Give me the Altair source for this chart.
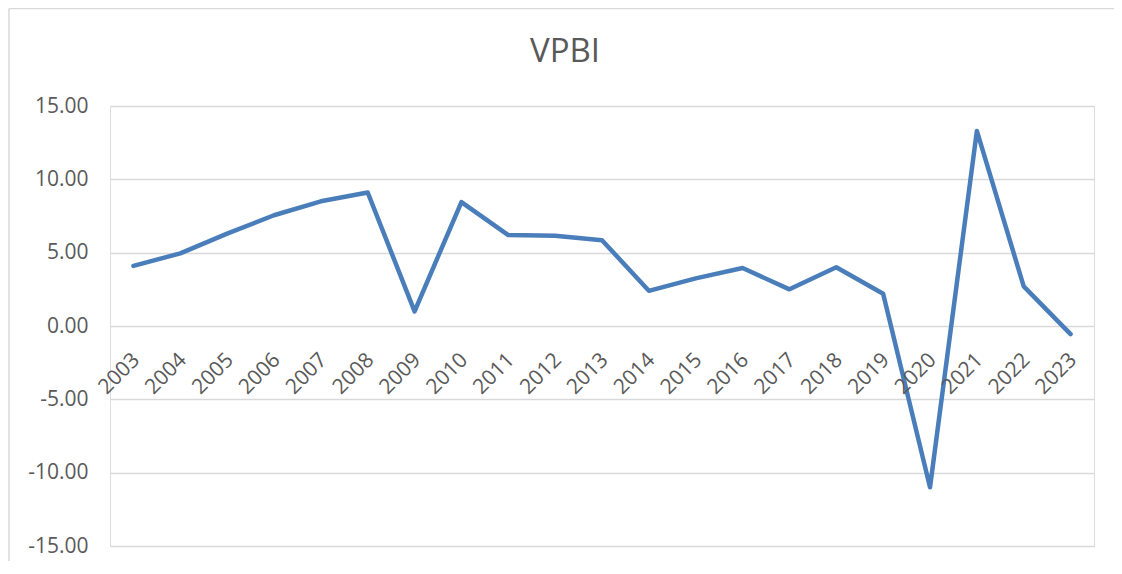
import altair as alt
import pandas as pd

years = [str(y) for y in range(2003, 2024)]
values = [4.1, 4.95, 6.3, 7.55, 8.5, 9.1, 1.0, 8.45, 6.2, 6.15, 5.85,
          2.4, 3.25, 3.95, 2.5, 4.0, 2.2, -11.0, 13.3, 2.7, -0.55]
y_ticks = [-15, -10, -5, 0, 5, 10, 15]
title_text = "VPBI"

df = pd.DataFrame({"year": years, "value": values})

FONT = "Open Sans"
TXT = "#595959"
GRID = "#d9d9d9"
LINE = "#4a7ebb"

xscale = alt.Scale(type="point", padding=0.5)
yscale = alt.Scale(domain=[-15, 15], nice=False, zero=False)

one = alt.Data(values=[{}])

border_left = alt.Chart(one).mark_rule(stroke=GRID, strokeWidth=1.5).encode(
    x=alt.value(-101), y=alt.value(-97.5), y2=alt.value(480)
)
border_top = alt.Chart(one).mark_rule(stroke=GRID, strokeWidth=1.5).encode(
    x=alt.value(-101), x2=alt.value(1030), y=alt.value(-97.5)
)

title = alt.Chart(one).mark_text(
    font=FONT, fontSize=33, color=TXT, align="center", baseline="alphabetic"
).encode(
    x=alt.value(455), y=alt.value(-44), text=alt.value(title_text)
)

line = alt.Chart(df).mark_line(
    color=LINE, strokeWidth=4.5, strokeJoin="round", strokeCap="round"
).encode(
    x=alt.X("year:O", scale=xscale, axis=None, sort=years),
    y=alt.Y("value:Q", scale=yscale, title=None,
            axis=alt.Axis(values=y_ticks, grid=True, gridColor=GRID, gridWidth=1.5,
                          domain=False, ticks=False, labelPadding=22,
                          labelFont=FONT, labelFontSize=21, labelColor=TXT,
                          labelExpr="replace(format(datum.value, '.2f'), '\u2212', '-')")),
)

labels = alt.Chart(df).mark_text(
    angle=315, align="right", baseline="middle", font=FONT, fontSize=21,
    color=TXT, xOffset=3, yOffset=31
).encode(
    x=alt.X("year:O", scale=xscale, sort=years),
    y=alt.datum(0),
    text="year:N",
)

chart = alt.layer(border_left, border_top, title, line, labels).properties(
    width=984, height=440,
    padding={"left": 102, "top": 98, "right": 20, "bottom": 15},
    autosize=alt.AutoSizeParams(type="none"),
).configure_view(stroke=None).configure(background="white")

chart.save("out.html", embed_options={"renderer": "svg", "actions": False})
